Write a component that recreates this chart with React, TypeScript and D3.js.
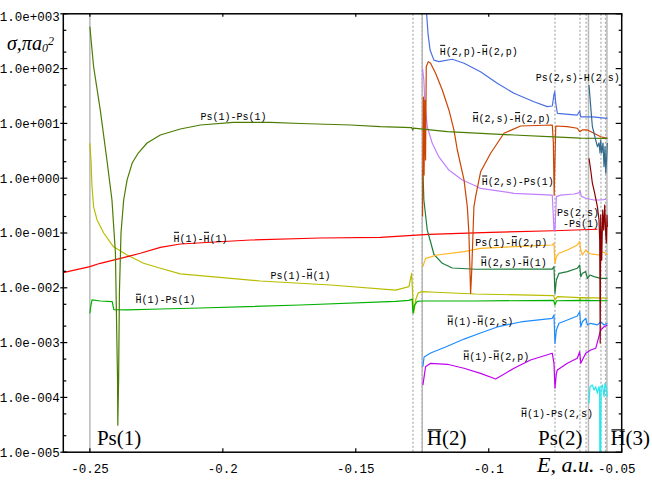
import * as d3 from 'd3';

type Pt = [number, number];

const WIDTH = 652;
const HEIGHT = 480;
const MARGIN = { top: 13.8, right: 30.3, bottom: 27.8, left: 63.3 };

// axes
const xTicks = [-0.25, -0.2, -0.15, -0.1, -0.05];
const xTickLabels = ['-0.25', '-0.2', '-0.15', '-0.1', '-0.05'];
const yTicks = [1e3, 1e2, 1e1, 1e0, 1e-1, 1e-2, 1e-3, 1e-4, 1e-5];
const yTickLabels = ['1.0e+003', '1.0e+002', '1.0e+001', '1.0e+000', '1.0e-001', '1.0e-002', '1.0e-003', '1.0e-004', '1.0e-005'];

// thresholds (a.u.)
const solidThresholds = [-0.25, -0.125, -0.0625, -1 / 18];
const thresholdNames = ['Ps(1)', 'H\u0305(2)', 'Ps(2)', 'H\u0305(3)'];
const dottedThresholds = [-0.1285, -0.1251, -0.0751, -0.0657, -0.0634, -0.0578, -0.0561];

// cross sections, [E a.u., sigma pi a0^2]
const ps1ps1: Pt[] = [
  [-0.25, 582], [-0.2486, 108], [-0.2461, 17.6], [-0.2436, 2.15], [-0.2417, 0.4], [-0.2404, 0.043],
  [-0.2396, 2.1e-4], [-0.2395, 3.1e-5], [-0.2392, 2.1e-4], [-0.2389, 8e-3], [-0.2383, 0.1],
  [-0.2373, 0.4], [-0.236, 0.93], [-0.2341, 1.89], [-0.2318, 2.88], [-0.2285, 4.39], [-0.2235, 6.14],
  [-0.216, 7.9], [-0.2084, 9.35], [-0.196, 10.4], [-0.1821, 10.4], [-0.1708, 9.96], [-0.152, 9.35],
  [-0.1407, 8.7], [-0.129, 8.4], [-0.1286, 7.6], [-0.1283, 8.2], [-0.1156, 7.06], [-0.0906, 6.14],
  [-0.0756, 5.7], [-0.0654, 5.4], [-0.0554, 5.35],
];
const ps1h1: Pt[] = [
  [-0.25, 4.33], [-0.2496, 2.15], [-0.2492, 0.7], [-0.2486, 0.3], [-0.2473, 0.173], [-0.2448, 0.1],
  [-0.2411, 0.056], [-0.236, 0.0397], [-0.2298, 0.028], [-0.2235, 0.0227], [-0.216, 0.0179],
  [-0.1859, 0.0133], [-0.1595, 0.01125], [-0.135, 0.0091], [-0.13, 0.0105], [-0.129, 0.0184],
  [-0.1285, 0.006], [-0.1282, 0.00347], [-0.1275, 0.006], [-0.1265, 0.0081], [-0.125, 0.0085],
  [-0.12, 0.0083], [-0.105, 0.0077], [-0.0756, 0.0072], [-0.0751, 0.006], [-0.0742, 0.0069],
  [-0.0658, 0.0066], [-0.0657, 0.0058], [-0.0654, 0.0066], [-0.0554, 0.0065],
];
const h1h1: Pt[] = [
  [-0.26, 0.0189], [-0.25, 0.0243], [-0.2461, 0.028], [-0.2385, 0.0345], [-0.231, 0.0427],
  [-0.2235, 0.0548], [-0.216, 0.063], [-0.1896, 0.0745], [-0.1633, 0.081], [-0.1407, 0.0835],
  [-0.1226, 0.0947], [-0.0993, 0.103], [-0.0756, 0.11], [-0.0591, 0.117],
];
const h1ps1: Pt[] = [
  [-0.25, 0.00343], [-0.2497, 0.0045], [-0.2492, 0.006], [-0.2461, 0.00574], [-0.2416, 0.0056],
  [-0.241, 0.004], [-0.236, 0.00394], [-0.2235, 0.0041], [-0.2084, 0.00428], [-0.1708, 0.00485],
  [-0.135, 0.00565], [-0.13, 0.0059], [-0.1288, 0.0062], [-0.1285, 0.00343], [-0.1279, 0.00485],
  [-0.1269, 0.00565], [-0.125, 0.00574], [-0.105, 0.00574], [-0.0756, 0.0059], [-0.0751, 0.00485],
  [-0.0745, 0.0058], [-0.0654, 0.0059], [-0.0554, 0.0058],
];
const h2ph2p: Pt[] = [
  [-0.12376, 2700], [-0.1234, 1047], [-0.12281, 420], [-0.12206, 218], [-0.12063, 143],
  [-0.11875, 134], [-0.1137, 148], [-0.1093, 125], [-0.1031, 87.8], [-0.0968, 54], [-0.0905, 35.4],
  [-0.083, 24.9], [-0.078, 20.2], [-0.0761, 20.8], [-0.0755, 33], [-0.0752, 37.9], [-0.0748, 23.3],
  [-0.0742, 15.3], [-0.0667, 14.2], [-0.0658, 16.8], [-0.0654, 13.2], [-0.061, 13.2], [-0.0554, 12.4],
];
const h2sh2p: Pt[] = [
  [-0.1249, 0.2], [-0.12458, 30.3], [-0.12432, 1.14], [-0.12406, 26.7], [-0.12376, 2.15],
  [-0.1235, 108], [-0.12274, 134], [-0.12187, 125], [-0.12, 82], [-0.11747, 40.7], [-0.11498, 17.6],
  [-0.1131, 7.6], [-0.11182, 3.27], [-0.1093, 0.93], [-0.10806, 0.3], [-0.10746, 0.099],
  [-0.10682, 0.0079], [-0.10644, 0.0184], [-0.10558, 0.3], [-0.10494, 0.46], [-0.10306, 1.31],
  [-0.09929, 2.85], [-0.09428, 6.6], [-0.088, 8.97], [-0.0761, 9.35], [-0.0757, 4.33], [-0.0754, 0.49],
  [-0.0748, 8.97], [-0.07043, 8.7], [-0.0667, 8.15], [-0.0658, 7.06], [-0.06478, 7.6], [-0.0629, 7.6],
  [-0.06041, 6.6], [-0.0579, 5.7], [-0.0554, 5.35],
];
const h2sps1: Pt[] = [
  [-0.1249, 100], [-0.1244, 62], [-0.12402, 23.3], [-0.12312, 8.7], [-0.12123, 4.33], [-0.1188, 2.47],
  [-0.115, 1.41], [-0.10994, 0.93], [-0.1049, 0.72], [-0.1031, 0.65], [-0.0905, 0.53], [-0.0761, 0.49],
  [-0.07547, 0.113], [-0.0751, 0.113], [-0.07457, 0.46], [-0.07295, 0.49], [-0.06794, 0.515],
  [-0.06606, 0.54], [-0.0657, 0.59], [-0.06516, 0.465], [-0.06354, 0.43], [-0.0604, 0.4], [-0.0579, 0.4],
  [-0.056, 0.41],
];
const ps2sh2s: Pt[] = [
  [-0.0623, 50.2], [-0.06166, 20.2], [-0.06102, 8.7], [-0.05977, 4.98], [-0.05913, 3.76],
  [-0.05853, 4.39], [-0.05815, 2.88], [-0.0579, 4.98], [-0.05752, 2.88], [-0.05703, 4.39],
  [-0.05665, 1.62], [-0.05627, 3.76], [-0.056, 1.24], [-0.05563, 2.47], [-0.0554, 4.39],
];
const ps2sps1: Pt[] = [
  [-0.0623, 2.31], [-0.06166, 1.41], [-0.06102, 0.81], [-0.06015, 0.53], [-0.05913, 0.3],
  [-0.05853, 0.173], [-0.05827, 0.0745], [-0.05808, 9.8e-4], [-0.0579, 0.213], [-0.05752, 0.032],
  [-0.05714, 0.263], [-0.05676, 0.113], [-0.05639, 0.324], [-0.056, 0.092], [-0.05575, 0.0657],
  [-0.05552, 0.213], [-0.0554, 0.129],
];
const ps1h2p: Pt[] = [
  [-0.12477, 0.0243], [-0.12376, 0.0345], [-0.11935, 0.0397], [-0.1093, 0.0456], [-0.1031, 0.0526],
  [-0.0905, 0.0562], [-0.0761, 0.0604], [-0.07547, 0.0649], [-0.0751, 0.028], [-0.07457, 0.037],
  [-0.07359, 0.0427], [-0.07043, 0.049], [-0.0667, 0.0604], [-0.0658, 0.0693], [-0.0654, 0.049],
  [-0.06478, 0.0397], [-0.06354, 0.049], [-0.0623, 0.0427], [-0.06102, 0.041], [-0.05853, 0.0397],
  [-0.05725, 0.0456], [-0.056, 0.0427], [-0.0554, 0.0397],
];
const h2sh1: Pt[] = [
  [-0.12477, 1.41], [-0.1244, 0.4], [-0.12376, 0.213], [-0.12312, 0.113], [-0.12187, 0.0685],
  [-0.12063, 0.041], [-0.11747, 0.028], [-0.1137, 0.023], [-0.1049, 0.0218], [-0.0761, 0.022],
  [-0.07547, 0.0243], [-0.0751, 0.0079], [-0.07457, 0.0139], [-0.07359, 0.0184], [-0.07043, 0.0197],
  [-0.0667, 0.0227], [-0.0658, 0.026], [-0.0654, 0.016], [-0.06478, 0.0184], [-0.06354, 0.0197],
  [-0.0629, 0.0149], [-0.06192, 0.0171], [-0.0604, 0.016], [-0.0579, 0.0149], [-0.0554, 0.0149],
];
const h1h2s: Pt[] = [
  [-0.12477, 3.63e-4], [-0.12432, 5.46e-4], [-0.12187, 6.46e-4], [-0.11623, 8.3e-4], [-0.1093, 1.16e-3],
  [-0.1031, 1.5e-3], [-0.0968, 1.93e-3], [-0.088, 2.38e-3], [-0.0761, 2.77e-3], [-0.07547, 3.19e-3],
  [-0.0751, 9.7e-4], [-0.07457, 1.7e-3], [-0.07359, 2.25e-3], [-0.07043, 2.58e-3], [-0.0667, 3.05e-3],
  [-0.0658, 3.66e-3], [-0.0654, 1.95e-3], [-0.06478, 2.4e-3], [-0.06354, 2.77e-3], [-0.0629, 2.1e-3],
  [-0.06166, 2.25e-3], [-0.05913, 2.1e-3], [-0.0579, 2.4e-3], [-0.05665, 2.1e-3], [-0.0554, 2.25e-3],
];
const h1h2p: Pt[] = [
  [-0.12477, 1.68e-4], [-0.12376, 3.63e-4], [-0.12187, 4.19e-4], [-0.1156, 4.02e-4], [-0.1093, 3.4e-4],
  [-0.1031, 2.75e-4], [-0.0974, 2.17e-4], [-0.0905, 3.4e-4], [-0.0843, 4.81e-4], [-0.0761, 6.38e-4],
  [-0.07547, 4.19e-4], [-0.0751, 1.47e-4], [-0.07457, 2.75e-4], [-0.0742, 3.16e-4], [-0.07043, 4.19e-4],
  [-0.0667, 5.18e-4], [-0.0658, 6.82e-4], [-0.0654, 4.19e-4], [-0.06478, 4.81e-4], [-0.06354, 6.38e-4],
  [-0.06166, 7.33e-4], [-0.05977, 7.87e-4], [-0.0579, 1.7e-3], [-0.05665, 1.95e-3], [-0.0554, 2.1e-3],
];
const h1ps2s: Pt[] = [
  [-0.0623, 7.8e-5], [-0.06192, 1.57e-4], [-0.06102, 1.68e-4], [-0.0604, 1.36e-4], [-0.05977, 1.57e-4],
  [-0.05913, 1.19e-4], [-0.05853, 1.57e-4], [-0.0583, 1.36e-4], [-0.0582, 5e-6], [-0.0579, 5e-6],
  [-0.05775, 1.57e-4], [-0.05725, 1.68e-4], [-0.05665, 1.03e-4], [-0.05627, 1.81e-4], [-0.05589, 1.57e-4],
  [-0.0554, 1.03e-4],
];

const series = [
  { color: '#b8bd00', data: ps1h1 },
  { color: '#ff0000', data: h1h1 },
  { color: '#00b000', data: h1ps1 },
  { color: '#4a6fe3', data: h2ph2p },
  { color: '#c080ff', data: h2sps1 },
  { color: '#1e7d3c', data: h2sh1 },
  { color: '#ffb420', data: ps1h2p },
  { color: '#1e8cff', data: h1h2s },
  { color: '#c000f0', data: h1h2p },
  { color: '#20e8f0', data: h1ps2s },
  { color: '#cc4400', data: h2sh2p },
  { color: '#4b7c00', data: ps1ps1 },
  { color: '#336b8c', data: ps2sh2s },
  { color: '#8b0000', data: ps2sps1 },
];

// curve labels at [E, sigma]
const curveLabels: { text: string; at: Pt; anchor: 'middle' | 'end' }[] = [
  { text: 'Ps(1)-Ps(1)', at: [-0.196, 13.1], anchor: 'middle' },
  { text: 'H\u0305(1)-H\u0305(1)', at: [-0.2084, 0.081], anchor: 'middle' },
  { text: 'Ps(1)-H\u0305(1)', at: [-0.1708, 0.0171], anchor: 'middle' },
  { text: 'H\u0305(1)-Ps(1)', at: [-0.2216, 0.006], anchor: 'middle' },
  { text: 'H\u0305(2,p)-H\u0305(2,p)', at: [-0.1038, 209], anchor: 'middle' },
  { text: 'Ps(2,s)-H(2,s)', at: [-0.0665, 69.4], anchor: 'middle' },
  { text: 'H\u0305(2,s)-H\u0305(2,p)', at: [-0.0914, 12.4], anchor: 'middle' },
  { text: 'H\u0305(2,s)-Ps(1)', at: [-0.0891, 0.863], anchor: 'middle' },
  { text: 'Ps(2,s)', at: [-0.0585, 0.239], anchor: 'end' },
  { text: '-Ps(1)', at: [-0.0585, 0.15], anchor: 'end' },
  { text: 'Ps(1)-H\u0305(2,p)', at: [-0.0915, 0.0676], anchor: 'middle' },
  { text: 'H\u0305(2,s)-H\u0305(1)', at: [-0.0906, 0.0287], anchor: 'middle' },
  { text: 'H\u0305(1)-H\u0305(2,s)', at: [-0.1032, 0.0024], anchor: 'middle' },
  { text: 'H\u0305(1)-H\u0305(2,p)', at: [-0.0972, 5.53e-4], anchor: 'middle' },
  { text: 'H\u0305(1)-Ps(2,s)', at: [-0.0743, 4.98e-5], anchor: 'middle' },
];

const MONO = 'Liberation Mono, DejaVu Sans Mono, monospace';
const SERIF = 'Liberation Serif, Times New Roman, serif';

// split "H\u0305" marks into plain text + overlined char indices
function splitOverline(text: string) {
  const chars: string[] = [];
  const over: number[] = [];
  for (const ch of text) {
    if (ch === '\u0305') over.push(chars.length - 1);
    else chars.push(ch);
  }
  return { plain: chars.join(''), over };
}

function MonoLabel({ text, x, y, anchor, size }: { text: string; x: number; y: number; anchor: string; size: number }) {
  const { plain, over } = splitOverline(text);
  const cw = size * 0.6;
  const w = plain.length * cw;
  const x0 = anchor === 'middle' ? x - w / 2 : anchor === 'end' ? x - w : x;
  const base = y + 3.5;
  return (
    <g>
      <text x={x0} y={base} fontFamily={MONO} fontSize={size} fill="#000">{plain}</text>
      {over.map((i) => (
        <line key={i} x1={x0 + i * cw + 0.5} x2={x0 + (i + 1) * cw - 0.5}
          y1={base - size * 0.92} y2={base - size * 0.92} stroke="#000" strokeWidth={1} />
      ))}
    </g>
  );
}

export default function App() {
  const iL = MARGIN.left;
  const iR = WIDTH - MARGIN.right;
  const iT = MARGIN.top;
  const iB = HEIGHT - MARGIN.bottom;

  const x = d3.scaleLinear().domain([-0.26, -0.05]).range([iL, iR]);
  const y = d3.scaleLog().domain([1e-5, 1e3]).range([iB, iT]);
  const line = d3.line<Pt>().x((d) => x(d[0])).y((d) => y(d[1]));

  const minor: number[] = [];
  yTicks.slice(1).forEach((d) => { minor.push(d * 2, d * 5); });

  // big threshold labels: offset / anchor per threshold
  const thrPlace = [
    { dx: 7, anchor: 'start' },
    { dx: 4.5, anchor: 'start' },
    { dx: -6, anchor: 'end' },
    { dx: 3.5, anchor: 'start' },
  ];
  const bigSize = 21;

  return (
    <svg width={WIDTH} height={HEIGHT} style={{ position: 'absolute', left: 0, top: 0, background: '#fff' }}>
      <defs>
        <clipPath id="plot">
          <rect x={iL} y={iT} width={iR - iL} height={iB - iT} />
        </clipPath>
      </defs>

      {/* threshold lines */}
      {dottedThresholds.map((e) => (
        <line key={'d' + e} x1={x(e)} x2={x(e)} y1={iT} y2={iB} stroke="#a8a8a8" strokeWidth={1.2} strokeDasharray="2,2" />
      ))}
      {solidThresholds.map((e) => (
        <line key={'s' + e} x1={x(e)} x2={x(e)} y1={iT} y2={iB} stroke="#b8b8b8" strokeWidth={1.5} />
      ))}

      {/* curves */}
      <g clipPath="url(#plot)" fill="none" strokeWidth={1.2} strokeLinejoin="round">
        {series.map((s, i) => (
          <path key={i} d={line(s.data) ?? ''} stroke={s.color} />
        ))}
      </g>

      {/* frame */}
      <rect x={iL} y={iT} width={iR - iL} height={iB - iT} fill="none" stroke="#000" strokeWidth={1.5} />

      {/* y ticks */}
      {yTicks.map((t, i) => (
        <g key={'yt' + t}>
          <line x1={iL - 3} x2={iL + 4} y1={y(t)} y2={y(t)} stroke="#000" strokeWidth={1.2} />
          <line x1={iR - 6} x2={iR} y1={y(t)} y2={y(t)} stroke="#000" strokeWidth={1.2} />
          <text x={iL - 3.5} y={Math.max(y(t) + 4.3, 20.5)} textAnchor="end" fontFamily={MONO} fontSize={12.5} fill="#000">
            {yTickLabels[i]}
          </text>
        </g>
      ))}
      {minor.map((t) => (
        <g key={'ym' + t}>
          <line x1={iL} x2={iL + 3} y1={y(t)} y2={y(t)} stroke="#000" strokeWidth={1.2} />
          <line x1={iR - 3} x2={iR} y1={y(t)} y2={y(t)} stroke="#000" strokeWidth={1.2} />
        </g>
      ))}

      {/* x ticks */}
      {xTicks.map((t, i) => (
        <g key={'xt' + t}>
          <line x1={x(t)} x2={x(t)} y1={iB} y2={iB - 4} stroke="#000" strokeWidth={1.2} />
          <line x1={x(t)} x2={x(t)} y1={iT} y2={iT + 3} stroke="#000" strokeWidth={1.2} />
          <text x={x(t) - (i === xTicks.length - 1 ? 5 : 0)} y={473} textAnchor="middle" fontFamily={MONO} fontSize={12.5} fill="#000">
            {xTickLabels[i]}
          </text>
        </g>
      ))}

      {/* axis titles */}
      <text x={7} y={50} fontFamily={SERIF} fontStyle="italic" fontSize={20} fill="#000">
        σ,πa<tspan dy={2} fontSize={12}>0</tspan><tspan dy={-7} fontSize={12}>2</tspan>
      </text>
      <text x={537} y={472} fontFamily={SERIF} fontStyle="italic" fontSize={22} fill="#000">E, a.u.</text>

      {/* threshold names */}
      {solidThresholds.map((e, i) => {
        const { plain, over } = splitOverline(thresholdNames[i]);
        const p = thrPlace[i];
        const tx = x(e) + p.dx;
        return (
          <g key={'tn' + i}>
            <text x={tx} y={445} textAnchor={p.anchor as any} fontFamily={SERIF} fontSize={bigSize} fill="#000">{plain}</text>
            {over.includes(0) && p.anchor === 'start' && (
              <line x1={tx + 1} x2={tx + bigSize * 0.722 - 1} y1={445 - bigSize * 0.72} y2={445 - bigSize * 0.72} stroke="#000" strokeWidth={1.2} />
            )}
          </g>
        );
      })}

      {/* curve labels */}
      {curveLabels.map((l, i) => (
        <MonoLabel key={i} text={l.text} x={x(l.at[0])} y={y(l.at[1])} anchor={l.anchor} size={10} />
      ))}
    </svg>
  );
}
